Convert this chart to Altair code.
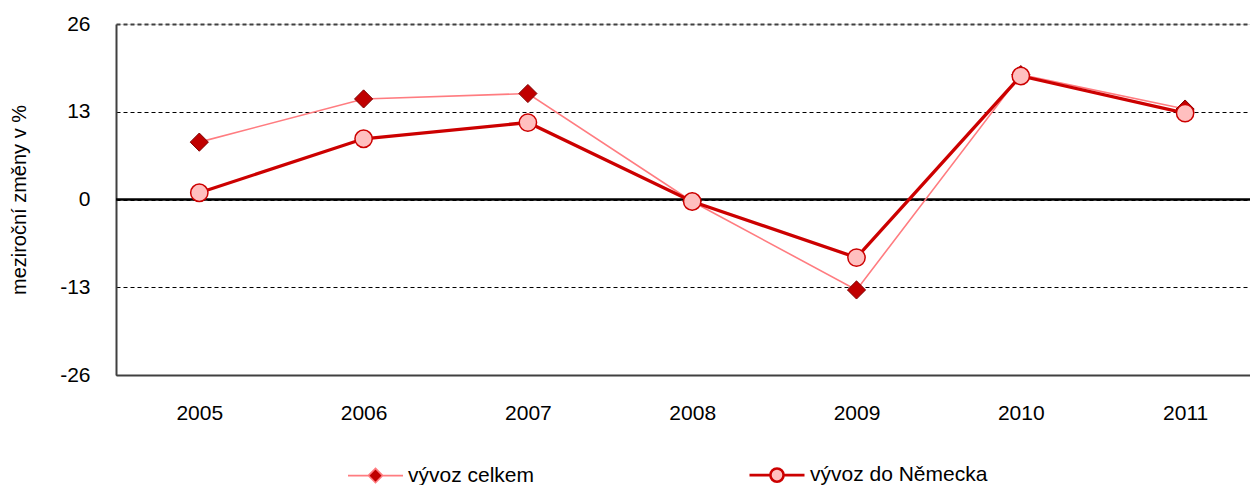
import altair as alt
import pandas as pd

# ---- data ----
years = [2005, 2006, 2007, 2008, 2009, 2010, 2011]
vyvoz_celkem = [8.5, 14.9, 15.7, -0.3, -13.4, 18.5, 13.4]
vyvoz_nemecko = [1.0, 9.0, 11.4, -0.3, -8.6, 18.3, 12.8]
series_names = ["vývoz celkem", "vývoz do Německa"]
y_ticks = [-26, -13, 0, 13, 26]
y_title = "meziroční změny v %"

df = pd.DataFrame({
    "rok": years * 2,
    "hodnota": vyvoz_celkem + vyvoz_nemecko,
    "rada": [series_names[0]] * len(years) + [series_names[1]] * len(years),
})
zero_df = pd.DataFrame({"y": [0]})

FONT = "Liberation Sans"

x_enc = alt.X(
    "rok:Q",
    scale=alt.Scale(domain=[2004.493, 2011.395], nice=False, zero=False),
    axis=alt.Axis(
        values=years, format="d", title=None, grid=False, ticks=False,
        domain=True, domainColor="#404040", domainWidth=2,
        labelFont=FONT, labelFontSize=21, labelColor="black", labelPadding=27,
    ),
)
y_enc = alt.Y(
    "hodnota:Q",
    scale=alt.Scale(domain=[-26, 26], nice=False, zero=False),
    axis=alt.Axis(
        values=y_ticks, title=y_title, ticks=False,
        labelExpr="'' + datum.value",
        domain=True, domainColor="#404040", domainWidth=2,
        grid=True, gridDash=[4, 3],
        gridColor={"condition": {"test": "datum.value == 26", "value": "#404040"}, "value": "black"},
        gridWidth={"condition": {"test": "datum.value == 26", "value": 2}, "value": 1},
        labelFont=FONT, labelFontSize=21, labelColor="black", labelPadding=26,
        titleFont=FONT, titleFontSize=20, titleFontWeight="normal", titleColor="black",
        titlePadding=30,
    ),
)

base = alt.Chart(df)

zero_rule = alt.Chart(zero_df).mark_rule(color="black", strokeWidth=2.6).encode(y="y:Q")

line1 = base.transform_filter(alt.datum.rada == series_names[0]).mark_line(
    color="#FF7C80", strokeWidth=1.6
).encode(x=x_enc, y=y_enc)
pts1 = base.transform_filter(alt.datum.rada == series_names[0]).mark_point(
    shape="diamond", filled=True, fill="#C00000", stroke="#800000",
    strokeWidth=1, size=330, opacity=1
).encode(x=x_enc, y=y_enc)
line2 = base.transform_filter(alt.datum.rada == series_names[1]).mark_line(
    color="#CC0000", strokeWidth=3.3
).encode(x=x_enc, y=y_enc)
pts2 = base.transform_filter(alt.datum.rada == series_names[1]).mark_point(
    shape="circle", filled=True, fill="#FFBFBF", stroke="#CC0000",
    strokeWidth=1.5, size=300, opacity=1
).encode(x=x_enc, y=y_enc)

# legend symbols: line with marker in the middle
legend_paths = [
    "M-1,0L-0.26,0M0.26,0L1,0M0,-0.26L0.26,0L0,0.26L-0.26,0Z",
    "M-1,0L-0.24,0M0.24,0L1,0M0.24,0A0.24,0.24 0 1,1 -0.24,0A0.24,0.24 0 1,1 0.24,0Z",
]
leg = alt.Legend(
    title=None, orient="none", legendX=231, legendY=422, direction="horizontal",
    symbolSize=3025, labelFont=FONT, labelFontSize=21, labelColor="black",
    labelOffset=4, labelLimit=600, columnPadding=209, padding=0, symbolOpacity=1,
)
legend_layer = base.transform_filter("datum.hodnota > 1000").mark_point(
    filled=True, opacity=1
).encode(
    shape=alt.Shape("rada:N", scale=alt.Scale(domain=series_names, range=legend_paths), legend=leg),
    fill=alt.Fill("rada:N", scale=alt.Scale(domain=series_names, range=["#C00000", "#FFBFBF"]), legend=leg),
    stroke=alt.Stroke("rada:N", scale=alt.Scale(domain=series_names, range=["#FF7C80", "#CC0000"]), legend=leg),
    strokeWidth=alt.StrokeWidth("rada:N", scale=alt.Scale(domain=series_names, range=[1.6, 2.6]), legend=leg),
)

chart = alt.layer(zero_rule, line1, pts1, line2, pts2, legend_layer).properties(
    width=1134, height=351,
    autosize=alt.AutoSizeParams(type="none"),
    padding={"left": 108, "top": 16, "right": 0, "bottom": 110},
).configure_view(stroke=None).configure(background="white")

chart.save("out.html", embed_options={"renderer": "svg", "actions": False})
